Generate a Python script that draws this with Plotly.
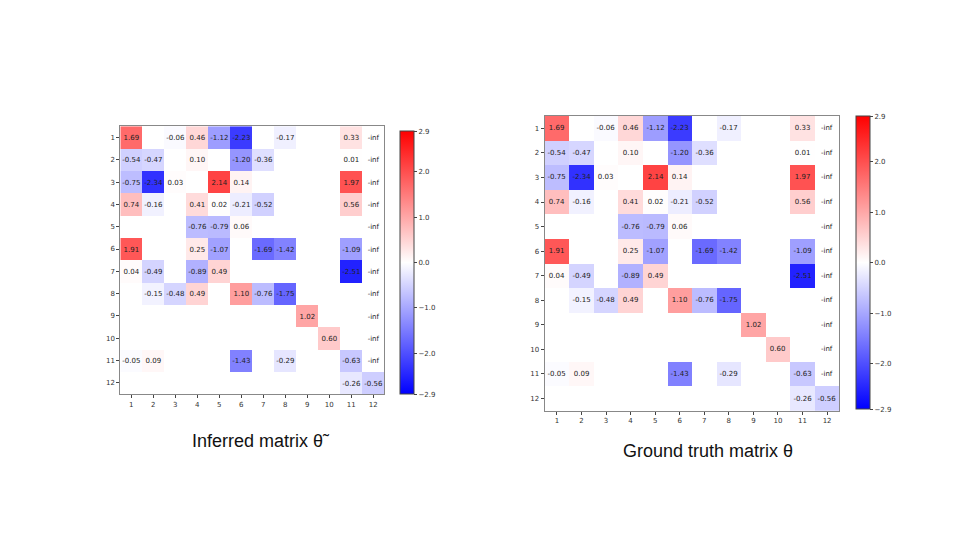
import plotly.graph_objects as go

N = None
labels = list(range(1, 13))
# theta values (rows 1..12, cols 1..12); None = empty cell; col 12 '-inf' for rows 1..11
theta_inferred = [
    [1.69, N, -0.06, 0.46, -1.12, -2.23, N, -0.17, N, N, 0.33, N],
    [-0.54, -0.47, N, 0.10, N, -1.20, -0.36, N, N, N, 0.01, N],
    [-0.75, -2.34, 0.03, N, 2.14, 0.14, N, N, N, N, 1.97, N],
    [0.74, -0.16, N, 0.41, 0.02, -0.21, -0.52, N, N, N, 0.56, N],
    [N, N, N, -0.76, -0.79, 0.06, N, N, N, N, N, N],
    [1.91, N, N, 0.25, -1.07, N, -1.69, -1.42, N, N, -1.09, N],
    [0.04, -0.49, N, -0.89, 0.49, N, N, N, N, N, -2.51, N],
    [N, -0.15, -0.48, 0.49, N, 1.10, -0.76, -1.75, N, N, N, N],
    [N, N, N, N, N, N, N, N, 1.02, N, N, N],
    [N, N, N, N, N, N, N, N, N, 0.60, N, N],
    [-0.05, 0.09, N, N, N, -1.43, N, -0.29, N, N, -0.63, N],
    [N, N, N, N, N, N, N, N, N, N, -0.26, -0.56],
]
theta_truth = [row[:] for row in theta_inferred]
inf_rows = list(range(11))  # rows with -inf in last column

cbar_vals = [2.9, 2.0, 1.0, 0.0, -1.0, -2.0, -2.9]
cbar_text = ["2.9", "2.0", "1.0", "0.0", "\u22121.0", "\u22122.0", "\u22122.9"]
bwr = [[0, "rgb(0,0,255)"], [0.5, "rgb(255,255,255)"], [1, "rgb(255,0,0)"]]


def texts(m):
    out = []
    for i, row in enumerate(m):
        r = []
        for j, v in enumerate(row):
            if j == 11 and i in inf_rows:
                r.append("-inf")
            elif v is None:
                r.append("")
            else:
                r.append(f"{v:.2f}")
        out.append(r)
    return out


fig = go.Figure()
specs = [
    (theta_inferred, "x", "y", [0.117, 0.392], [0.285, 0.781], 0.408, [0.285, 0.772]),
    (theta_truth, "x2", "y2", [0.559, 0.866], [0.254, 0.80], 0.883, [0.257, 0.80]),
]
for m, xa, ya, xd, yd, cbx, cbd in specs:
    fig.add_trace(go.Heatmap(
        z=m, x=labels, y=labels, text=texts(m), texttemplate="%{text}",
        textfont=dict(size=7, color="#222"), colorscale=bwr, zmin=-2.9, zmax=2.9,
        xaxis=xa, yaxis=ya, hoverongaps=False,
        colorbar=dict(x=cbx, xanchor="left", y=(cbd[0] + cbd[1]) / 2, yanchor="middle",
                      len=cbd[1] - cbd[0], thickness=14, ypad=0, xpad=0,
                      tickvals=cbar_vals, ticktext=cbar_text, ticks="outside",
                      ticklen=3, tickfont=dict(size=7, color="#333"),
                      outlinecolor="#444", outlinewidth=1),
    ))

ax = dict(tickvals=labels, ticks="outside", ticklen=3, tickfont=dict(size=7, color="#333"),
          showline=True, linecolor="#888", mirror=True, showgrid=False, zeroline=False)
fig.update_layout(
    width=960, height=540, margin=dict(l=0, r=0, t=0, b=0),
    paper_bgcolor="white", plot_bgcolor="white",
    font=dict(family="DejaVu Sans"),
    xaxis=dict(domain=specs[0][3], range=[0.5, 12.5], **ax),
    yaxis=dict(domain=specs[0][4], range=[12.5, 0.5], **ax),
    xaxis2=dict(domain=specs[1][3], range=[0.5, 12.5], anchor="y2", **ax),
    yaxis2=dict(domain=specs[1][4], range=[12.5, 0.5], anchor="x2", **ax),
    annotations=[
        dict(text="Inferred matrix \u03b8\u0303", x=253 / 960, y=1 - 433 / 540, xref="paper", yref="paper",
             xanchor="center", yanchor="middle",
             showarrow=False, font=dict(size=18, color="#111", family="Liberation Sans")),
        dict(text="Ground truth matrix \u03b8", x=700 / 960, y=1 - 443 / 540, xref="paper", yref="paper",
             xanchor="center", yanchor="middle",
             showarrow=False, font=dict(size=18, color="#111", family="Liberation Sans")),
    ],
)
fig.write_html("out.html")
